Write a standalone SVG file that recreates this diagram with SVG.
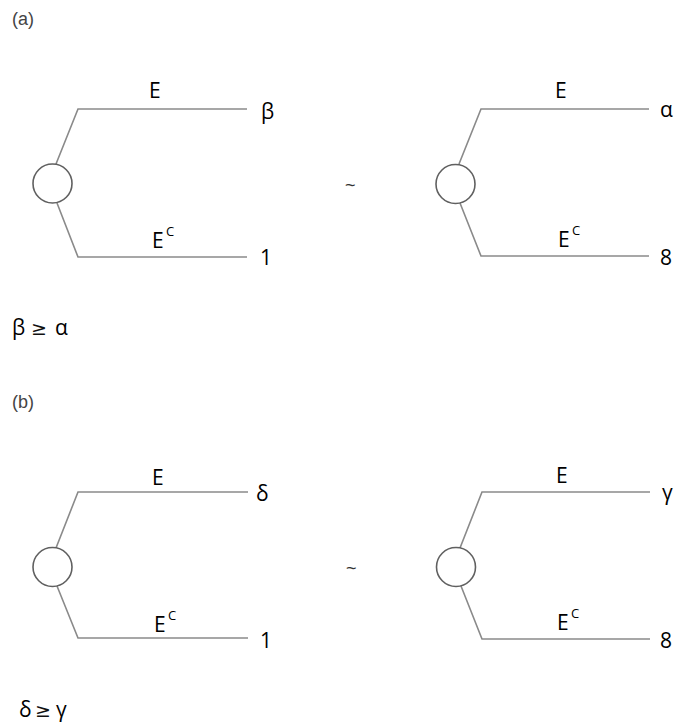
<svg xmlns="http://www.w3.org/2000/svg" width="677" height="726" viewBox="0 0 677 726">
<style>
.ln{stroke:#8a8a8a;stroke-width:1.6;fill:none}
.cr{stroke:#606060;stroke-width:1.6;fill:#fff}
.t{font-family:"Open Sans","Liberation Sans",Arial,sans-serif;font-size:21px;fill:#000}
.s{font-family:"Open Sans","Liberation Sans",Arial,sans-serif;font-size:13px;fill:#000}
.p{font-family:"Liberation Sans",Arial,sans-serif;font-size:18px;fill:#444}
.w{font-family:"Liberation Sans",Arial,sans-serif;font-size:18px;fill:#333}
.g{font-family:"DejaVu Sans","Liberation Sans",sans-serif;font-size:19px;fill:#111}
</style>
<rect width="677" height="726" fill="#fff"/>
<text class="p" x="12" y="25">(a)</text>
<text class="p" x="12" y="408">(b)</text>
<g id="connectors">
<path class="ln" d="M56,164 L78,109 L247,109"/>
<path class="ln" d="M57,203 L78,257 L247,257"/>
<path class="ln" d="M459,164 L481,109 L649,109"/>
<path class="ln" d="M460,203 L481,256 L649,256"/>
<path class="ln" d="M56,548 L78,492 L248,492"/>
<path class="ln" d="M57,586 L78,638 L248,638"/>
<path class="ln" d="M460,548 L482,492 L650,492"/>
<path class="ln" d="M461,586 L482,639 L650,639"/>
</g>
<g id="nodeA1"><circle class="cr" cx="52.5" cy="183.5" r="19.5"/></g>
<g id="nodeA2"><circle class="cr" cx="455.5" cy="184" r="19.5"/></g>
<g id="nodeB1"><circle class="cr" cx="52.5" cy="567" r="19.5"/></g>
<g id="nodeB2"><circle class="cr" cx="456" cy="567" r="19.5"/></g>
<g id="labelsA">
<text class="t" x="149" y="98">E</text>
<text class="t" x="152" y="248">E</text><text class="s" x="166" y="236">C</text>
<text class="t" x="261" y="119">β</text>
<text class="t" x="260" y="265">1</text>
<text class="t" x="555" y="98">E</text>
<text class="t" x="558" y="247">E</text><text class="s" x="572" y="235">C</text>
<text class="t" x="660" y="117">α</text>
<text class="t" x="660" y="265">8</text>
<text class="w" x="345" y="191">~</text>
<text class="t" x="12" y="335">β</text><text class="g" x="31" y="335">≥</text><text class="t" x="55" y="335">α</text>
</g>
<g id="labelsB">
<text class="t" x="152" y="485">E</text>
<text class="t" x="154" y="632">E</text><text class="s" x="168" y="620">C</text>
<text class="t" x="256" y="501">δ</text>
<text class="t" x="260" y="648">1</text>
<text class="t" x="556" y="483">E</text>
<text class="t" x="557" y="630">E</text><text class="s" x="571" y="618">C</text>
<text class="t" x="662" y="500">γ</text>
<text class="t" x="660" y="648">8</text>
<text class="w" x="346" y="574">~</text>
<text class="t" x="19" y="717">δ</text><text class="g" x="35" y="717">≥</text><text class="t" x="56" y="717">γ</text>
</g>
</svg>
